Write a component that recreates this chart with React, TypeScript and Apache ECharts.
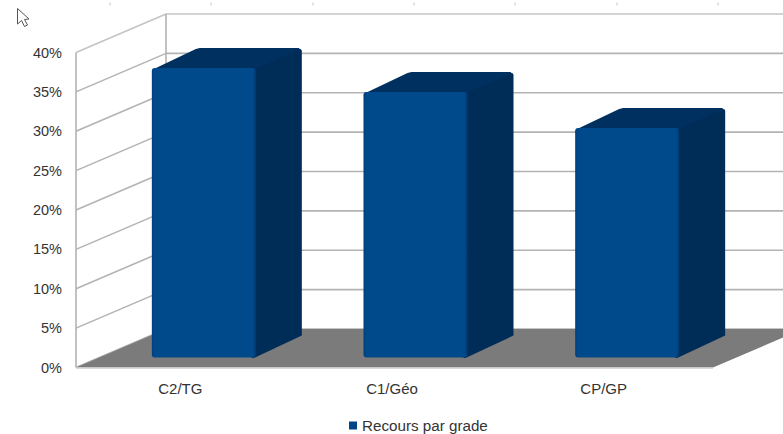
import React, { useEffect, useRef } from "react";
import * as echarts from "echarts";

const categories = ["C2/TG", "C1/Géo", "CP/GP"];
const seriesName = "Recours par grade";
const recours = [36.75, 33.7, 29.15];
const gridTicks = [0, 5, 10, 15, 20, 25, 30, 35, 40];

const FONT = '"Liberation Sans", Arial, sans-serif';
const WALL_DX = 90;
const WALL_DY = 38.5;
const BAR_W = 104;
const NEAR_DX = 22;
const NEAR_DY = 10;
const FAR_DX = 68;
const FAR_DY = 30;
const FLOOR_EXTRA = 2;
const LINE = "#b3b3b3";

echarts.graphic.registerShape(
  "cursorArrow",
  echarts.graphic.extendPath(
    "M17.5 8.5 L17.5 24 L21.5 20.5 L24.5 26.5 L27.5 25 L24.5 19.5 L29 19 Z",
    {}
  ) as any
);

function renderWallLine(params: any, api: any) {
  const c = params.coordSys;
  const y = api.coord([0, api.value(1)])[1];
  const x0 = c.x;
  const x1 = c.x + WALL_DX;
  const top = api.value(1) === 40;
  const style = { stroke: top ? "#c4c4c4" : LINE, lineWidth: 1.6, fill: "none" };
  return {
    type: "group",
    children: [
      { type: "line", shape: { x1: x0, y1: y, x2: x1, y2: y - WALL_DY }, style },
      { type: "line", shape: { x1, y1: y - WALL_DY, x2: 790, y2: y - WALL_DY }, style },
    ],
  };
}

function renderFrame(params: any, api: any) {
  const c = params.coordSys;
  const b = c.y + c.height;
  const r = c.x + c.width + FLOOR_EXTRA;
  const style = { stroke: LINE, lineWidth: 1.6, fill: "none" };
  return {
    type: "group",
    children: [
      { type: "line", shape: { x1: c.x, y1: c.y, x2: c.x, y2: b }, style },
      { type: "line", shape: { x1: c.x + WALL_DX, y1: c.y - WALL_DY, x2: c.x + WALL_DX, y2: b - WALL_DY }, style },
      {
        type: "polygon",
        shape: {
          points: [
            [c.x, b],
            [r, b],
            [r + WALL_DX, b - WALL_DY],
            [c.x + WALL_DX, b - WALL_DY],
          ],
        },
        style: { fill: "#7b7b7b" },
      },
      { type: "line", shape: { x1: c.x, y1: b + 0.5, x2: r, y2: b + 0.5 }, style: { stroke: "#cfcfcf", lineWidth: 1.5 } },
    ],
  };
}

function renderBar(params: any, api: any) {
  const [cx, top] = api.coord([api.value(0), api.value(1)]);
  const [, base] = api.coord([api.value(0), 0]);
  const l = cx + NEAR_DX - BAR_W / 2;
  const rt = l + BAR_W;
  const fTop = top - NEAR_DY;
  const fBot = base - NEAR_DY;
  const farDx = FAR_DX - NEAR_DX;
  const farDy = FAR_DY - NEAR_DY;
  return {
    type: "group",
    children: [
      {
        type: "polygon",
        shape: {
          points: [
            [l, fTop + 4],
            [l + 2, fTop + 1],
            [l + farDx - 2, fTop - farDy + 1],
            [l + farDx + 2, fTop - farDy],
            [rt + farDx - 3, fTop - farDy],
            [rt + farDx, fTop - farDy + 3],
            [rt, fTop + 6],
            [l + 2, fTop + 6],
          ],
        },
        style: { fill: "#003060" },
      },
      {
        type: "polygon",
        shape: {
          points: [
            [rt - 4, fTop + 2],
            [rt + farDx - 1, fTop - farDy + 1],
            [rt + farDx, fTop - farDy + 3],
            [rt + farDx, fBot - farDy - 2],
            [rt - 2, fBot + 0.5],
            [rt - 4, fBot + 0.5],
          ],
        },
        style: { fill: "#002d58" },
      },
      {
        type: "rect",
        shape: { x: l, y: fTop, width: BAR_W, height: fBot - fTop, r: 3 },
        style: {
          fill: new echarts.graphic.LinearGradient(0, 0, 1, 0, [
            { offset: 0, color: "#003f7a" },
            { offset: 0.025, color: "#00498b" },
            { offset: 0.97, color: "#00498b" },
            { offset: 1, color: "#003a70" },
          ]),
        },
      },
    ],
  };
}

const cornerTicks = [110, 211, 313, 414, 515, 617, 718];

export default function App() {
  const ref = useRef<HTMLDivElement>(null);
  useEffect(() => {
    const chart = echarts.init(ref.current!, undefined, { renderer: "svg" });
    chart.setOption({
      animation: false,
      backgroundColor: "#ffffff",
      textStyle: { fontFamily: FONT },
      grid: { left: 76, right: 72, top: 52.5, bottom: 66.5 },
      xAxis: {
        type: "category",
        data: categories,
        axisLine: { show: false },
        axisTick: { show: false },
        axisLabel: { color: "#333333", fontSize: 15, fontFamily: FONT, margin: 13, padding: [0, 3, 0, 0] },
      },
      yAxis: {
        type: "value",
        min: 0,
        max: 40,
        interval: 5,
        axisLine: { show: false },
        axisTick: { show: false },
        splitLine: { show: false },
        axisLabel: { color: "#333333", fontSize: 14.5, fontFamily: FONT, margin: 14, formatter: "{value}%" },
      },
      legend: {
        left: 344,
        top: 413,
        data: [seriesName],
        icon: "rect",
        itemWidth: 8,
        itemHeight: 8,
        itemGap: 5,
        textStyle: { color: "#333333", fontSize: 15.2, fontFamily: FONT, padding: [0, 0, 0, 0] },
      },
      graphic: [
        ...cornerTicks.map((x) => ({
          type: "line",
          shape: { x1: x, y1: 2.5, x2: x, y2: 5.5 },
          style: { stroke: "#c8c8c8", lineWidth: 1 },
        })),
        {
          type: "cursorArrow",
          x: 0,
          y: 0,
          style: { fill: "#ffffff", stroke: "#555555", lineWidth: 1 },
        },
      ],
      series: [
        {
          type: "custom",
          z: 1,
          silent: true,
          renderItem: renderWallLine,
          data: gridTicks.map((t) => [0, t]),
          encode: { x: 0, y: 1 },
        },
        {
          type: "custom",
          z: 2,
          silent: true,
          renderItem: renderFrame,
          data: [[0, 0]],
          encode: { x: 0, y: 1 },
        },
        {
          type: "custom",
          name: seriesName,
          z: 3,
          itemStyle: { color: "#004586" },
          renderItem: renderBar,
          data: recours.map((v, i) => [i, v]),
          encode: { x: 0, y: 1 },
        },
      ],
    });
    return () => chart.dispose();
  }, []);
  return <div ref={ref} style={{ position: "fixed", left: 0, top: 0, width: 783, height: 434 }} />;
}
